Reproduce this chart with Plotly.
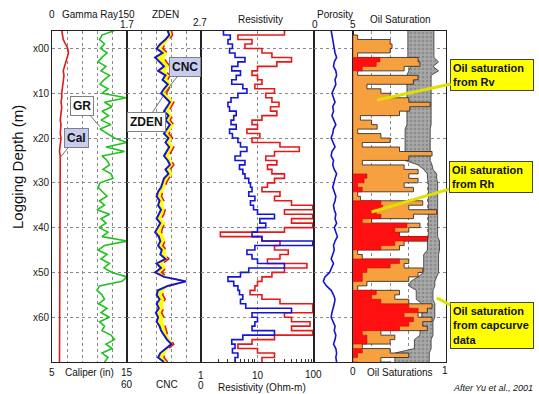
import plotly.graph_objects as go

# ---------------- data ----------------
depth = list(range(-4, 71))

gamma_ray = [125,100,95,105,97,110,100,92,108,98,
             115,104,96,112,100,148,105,120,100,113,
             98,118,96,112,125,150,108,145,100,110,
             115,102,118,122,96,92,100,110,95,105,
             90,115,98,108,94,112,100,150,105,92,
             110,98,115,104,120,150,140,95,90,100,
             105,93,110,98,115,95,105,100,118,125,
             108,120,100,112,105]

caliper = [6.3,6.4,6.5,6.8,7.1,7.2,7.0,6.9,6.7,6.5,
           6.6,6.5,6.4,6.4,6.3,6.3,6.2,6.3,6.2,6.2,
           6.1,6.2,6.1,6.1,6.2,6.1,6.1,6.0,6.1,6.1,
           6.1,6.1,6.0,6.1,6.1,6.1,6.1,6.0,6.1,6.1,
           6.1,6.1,6.1,6.0,6.1,6.1,6.1,6.1,6.0,6.1,
           6.1,6.1,6.1,6.1,6.0,6.1,6.1,6.1,6.1,6.0,
           6.0,6.0,6.1,6.0,6.0,6.0,6.1,6.0,6.0,6.0,
           6.0,6.0,6.0,6.0,6.0]

zden = [2.25,2.27,2.22,2.15,2.10,2.18,2.08,2.14,2.20,2.12,
        2.22,2.18,2.25,2.20,2.16,2.22,2.28,2.24,2.20,2.26,
        2.22,2.28,2.24,2.20,2.26,2.22,2.27,2.24,2.20,2.25,
        2.28,2.22,2.26,2.20,2.18,2.16,2.12,2.10,2.14,2.12,
        2.16,2.13,2.10,2.15,2.12,2.08,2.13,2.15,2.12,2.17,
        2.15,2.22,2.10,2.16,2.08,2.20,2.50,2.25,2.12,2.10,
        2.14,2.10,2.13,2.09,2.12,2.10,2.14,2.16,2.20,2.24,
        2.30,2.22,2.15,2.12,2.20]

cnc = [24,23,26,29,31,27,30,28,25,29,
       25,27,24,26,28,25,22,24,26,23,
       25,22,24,26,23,25,22,24,26,24,
       22,25,23,26,28,29,31,32,30,31,
       29,30,32,29,31,32,30,29,31,28,
       29,26,31,28,32,27,14,25,30,31,
       29,31,30,32,30,31,29,28,27,25,
       22,26,29,30,27]

rh = [2.5,3.3,3.0,3.6,3.2,4.0,6.0,4.5,3.5,5.0,
      4.2,3.5,5.5,6.5,4.5,3.4,3.0,3.2,4.2,3.8,
      3.4,4.2,3.2,3.6,4.5,5.0,6.5,5.0,4.0,6.0,
      4.8,5.5,6.0,7.0,7.5,8.0,7.0,9.0,7.5,8.5,
      10,20,11,14,10,8,12,95,9,6.5,
      8,10,30,7,5,3.0,3.8,4.5,4.8,5.5,
      5,6.2,40,8,10,9,8,20,5.5,3.5,
      4.0,3.6,4.5,4.0,4.0]

rv = [30,4.5,8,6,12,18,40,22,10,8,
      10,12,9,20,14,18,24,17,22,12,
      8,10,6.5,11,8,25,55,20,14,22,
      15,18,30,20,15,12,25,20,40,95,
      30,95,40,95,30,2.2,12,25,20,35,
      25,15,75,30,18,12,10,9,7.4,12,
      25,95,95,30,40,85,40,95,20,8,
      4.5,10,20,12,12]

porosity = [2.2,2.3,2.4,2.5,2.6,2.7,2.9,2.6,2.5,2.8,
            2.9,2.7,2.8,2.6,2.3,2.5,2.7,2.4,2.5,2.3,
            2.6,2.8,2.5,2.4,2.2,2.5,2.7,2.3,2.2,2.5,
            2.4,2.6,2.9,2.7,2.5,2.4,2.6,2.8,2.7,2.5,
            2.6,2.8,2.7,2.9,2.6,2.8,3.0,2.7,2.5,2.6,
            2.4,2.2,2.5,2.3,2.0,1.4,1.2,1.6,2.2,2.5,
            2.7,2.6,2.4,2.3,2.2,2.5,2.7,2.6,2.8,2.7,
            2.5,2.8,2.9,2.8,2.9]

so_rv = [0.0,0.05,0.40,0.42,0.40,0.05,0.70,0.72,0.55,0.05,
         0.70,0.65,0.15,0.30,0.40,0.60,0.83,0.61,0.50,0.08,
         0.20,0.26,0.05,0.30,0.40,0.10,0.50,0.85,0.60,0.10,
         0.55,0.70,0.60,0.70,0.55,0.65,0.05,0.08,0.75,0.60,
         0.90,0.65,0.20,0.72,0.60,0.50,0.80,0.55,0.50,0.05,
         0.10,0.60,0.55,0.75,0.70,0.60,0.15,0.05,0.50,0.45,
         0.60,0.85,0.80,0.70,0.85,0.75,0.80,0.30,0.45,0.40,
         0.10,0.40,0.60,0.30,0.40]

so_rh = [0,0,0,0,0,0,0.29,0.25,0.10,0,
         0,0,0,0,0,0,0,0,0,0,
         0,0,0,0,0,0,0,0,0,0,
         0,0,0.15,0.12,0.05,0.10,0,0,0.30,0.32,
         0.25,0.30,0.10,0.58,0.45,0.50,0.80,0.45,0.30,0,
         0,0.50,0.40,0.15,0.10,0.10,0,0,0.25,0.20,
         0.30,0.60,0.70,0.55,0.65,0.60,0.50,0.10,0.15,0.15,
         0,0.10,0.05,0,0.05]

so_cap_lo = [0.59,0.59,0.59,0.59,0.59,0.59,0.59,0.60,0.62,0.60,
             0.58,0.58,0.58,0.58,0.58,0.58,0.58,0.58,0.58,0.58,
             0.58,0.58,0.56,0.56,0.56,0.56,0.56,0.56,0.56,0.56,
             0.70,0.76,0.80,0.80,0.81,0.81,0.81,0.81,0.81,0.81,
             0.81,0.81,0.81,0.81,0.81,0.81,0.81,0.80,0.80,0.80,
             0.76,0.76,0.76,0.76,0.76,0.70,0.62,0.60,0.68,0.68,
             0.68,0.74,0.74,0.74,0.74,0.72,0.72,0.72,0.72,0.66,
             0.66,0.66,0.45,0.45,0.45]

so_cap_hi = [0.87,0.87,0.87,0.87,0.87,0.87,0.87,0.92,0.86,0.92,
             0.84,0.84,0.84,0.84,0.84,0.84,0.84,0.84,0.84,0.84,
             0.84,0.84,0.83,0.83,0.83,0.83,0.83,0.83,0.83,0.83,
             0.85,0.86,0.90,0.90,0.91,0.91,0.91,0.91,0.91,0.91,
             0.91,0.91,0.91,0.91,0.91,0.91,0.91,0.93,0.93,0.93,
             0.92,0.92,0.92,0.92,0.92,0.90,0.88,0.88,0.86,0.86,
             0.86,0.88,0.88,0.88,0.88,0.86,0.86,0.86,0.86,0.84,
             0.84,0.84,0.82,0.82,0.82]

depth_ticks = [0, 10, 20, 30, 40, 50, 60]
depth_labels = ["x00", "x10", "x20", "x30", "x40", "x50", "x60"]

# scales of the tracks
GR_RANGE = [0, 150]
CAL_RANGE = [5, 15]
ZDEN_RANGE = [1.7, 2.7]
CNC_RANGE = [60, 0]
POR_RANGE = [0, 5]
SO_RANGE = [0, 1]
DEPTH_RANGE = [70.0, -3.9]

# CNC shown on the ZDEN track scale (needed for the crossover fill)
cnc_on_zden = [ZDEN_RANGE[0] + (CNC_RANGE[0] - c) / (CNC_RANGE[0] - CNC_RANGE[1]) *
               (ZDEN_RANGE[1] - ZDEN_RANGE[0]) for c in cnc]

# ---------------- figure ----------------
W, H = 539, 394
ML, MR, MT, MB = 52, 93, 31, 32
PW, PH = W - ML - MR, H - MT - MB
FONT = "Liberation Sans, Arial, sans-serif"

def px(p):
    return (p - ML) / PW

def py(p):
    return (H - MB - p) / PH

edges = [52, 127, 201, 314, 353, 446]
domains = [[px(edges[i]), px(edges[i + 1])] for i in range(5)]
domains[-1][1] = 1.0

fig = go.Figure()

# Track 1
fig.add_trace(go.Scatter(x=gamma_ray, y=depth, xaxis="x", yaxis="y", mode="lines",
                         line=dict(color="#1fc21f", width=1.6)))
fig.add_trace(go.Scatter(x=caliper, y=depth, xaxis="x6", yaxis="y", mode="lines",
                         line=dict(color="#e01818", width=1.6)))
# Track 2
fig.add_trace(go.Scatter(x=zden, y=depth, xaxis="x2", yaxis="y2", mode="lines",
                         line=dict(width=0, color="#1515d0")))
fig.add_trace(go.Scatter(x=cnc_on_zden, y=depth, xaxis="x2", yaxis="y2", mode="lines",
                         fill="tonextx", fillcolor="#ffff00",
                         line=dict(color="#e01818", width=1.5, dash="dash")))
fig.add_trace(go.Scatter(x=zden, y=depth, xaxis="x2", yaxis="y2", mode="lines",
                         line=dict(color="#1515d0", width=2)))
# Track 3
fig.add_trace(go.Scatter(x=rv, y=depth, xaxis="x3", yaxis="y3", mode="lines",
                         line=dict(color="#e81818", width=1.6, shape="vh")))
fig.add_trace(go.Scatter(x=rh, y=depth, xaxis="x3", yaxis="y3", mode="lines",
                         line=dict(color="#1515d8", width=1.6, shape="vh")))
# Track 4
fig.add_trace(go.Scatter(x=porosity, y=depth, xaxis="x4", yaxis="y4", mode="lines",
                         line=dict(color="#1515d0", width=1.6)))
# Track 5
fig.add_trace(go.Scatter(x=so_cap_lo, y=depth, xaxis="x5", yaxis="y5", mode="lines",
                         line=dict(color="#333", width=0.8)))
fig.add_trace(go.Scatter(x=so_cap_hi, y=depth, xaxis="x5", yaxis="y5", mode="lines",
                         fill="tonextx", fillcolor="#a0a0a0",
                         fillpattern=dict(shape=".", bgcolor="#a8a8a8", fgcolor="#6e6e6e",
                                          size=4, solidity=0.35),
                         line=dict(color="#333", width=0.8)))
fig.add_trace(go.Scatter(x=so_rv, y=depth, xaxis="x5", yaxis="y5", mode="lines",
                         fill="tozerox", fillcolor="#f6a040",
                         line=dict(color="#222", width=0.8, shape="vh")))
fig.add_trace(go.Scatter(x=so_rh, y=depth, xaxis="x5", yaxis="y5", mode="lines",
                         fill="tozerox", fillcolor="#ff1010",
                         line=dict(color="#c00000", width=0.5, shape="vh")))

grid = dict(showgrid=True, gridcolor="#8a8a8a", griddash="dot", gridwidth=1)
line = dict(showline=True, linecolor="#222", linewidth=1, mirror=True,
            zeroline=False, showticklabels=False, ticks="")

xcfg = [
    dict(range=GR_RANGE, tickvals=[30, 60, 90, 120]),
    dict(range=ZDEN_RANGE, tickvals=[1.9, 2.1, 2.3, 2.5]),
    dict(type="log", range=[0, 2], tickvals=[10],
         minor=dict(tickmode="array", tickvals=[2, 3, 4, 5, 6, 7, 8, 9, 20, 30, 40, 50, 60, 70, 80, 90],
                    ticks="inside", ticklen=3, tickcolor="#333", showgrid=False)),
    dict(range=POR_RANGE, tickvals=[]),
    dict(range=SO_RANGE, tickvals=[0.2, 0.4, 0.6, 0.8]),
]

layout = dict(width=W, height=H, margin=dict(l=ML, r=MR, t=MT, b=MB),
              paper_bgcolor="white", plot_bgcolor="white", showlegend=False,
              font=dict(family=FONT, size=10, color="#111"))

for i in range(5):
    k = "" if i == 0 else str(i + 1)
    xa = dict(domain=domains[i], anchor="y" + k, **grid, **line)
    xa.update(xcfg[i])
    layout["xaxis" + k] = xa
    ya = dict(domain=[0, 1], anchor="x" + k, range=DEPTH_RANGE, tickvals=depth_ticks,
              **grid, **line)
    if i == 0:
        ya.update(showticklabels=True, ticktext=depth_labels,
                  tickfont=dict(size=10, color="#222", family=FONT))
    else:
        ya.update(matches="y")
    layout["yaxis" + k] = ya

layout["xaxis6"] = dict(overlaying="x", anchor="y", range=CAL_RANGE, visible=False)

fig.update_layout(**layout)

# ---------------- texts ----------------
ann = []

def label(text, x, y, xanchor="center", size=10, yanchor="middle", **kw):
    ann.append(dict(text=text, x=px(x), y=py(y), xref="paper", yref="paper",
                    xanchor=xanchor, yanchor=yanchor, showarrow=False,
                    font=dict(family=FONT, size=size, color="#111"), **kw))

label("0", 52, 15)
label("Gamma Ray", 90, 15)
label("150", 126, 15)
label("1.7", 127, 24)
label("ZDEN", 165, 15)
label("2.7", 200, 23)
label("Resistivity", 260, 19)
label("Porosity", 335, 15)
label("0", 315, 24)
label("5", 353, 25)
label("Oil Saturation", 400, 19)

label("5", 52, 372)
label("Caliper (in)", 89, 372)
label("15", 127, 372)
label("60", 127, 384)
label("CNC", 167, 384)
label("1", 201, 375)
label("0", 201, 385)
label("10", 258, 375)
label("100", 313, 374)
label("Resistivity (Ohm-m)", 262, 387)
label("0", 353, 371)
label("Oil Saturations", 400, 372)
label("1", 445, 370)
label("<i>After Yu et al., 2001</i>", 451, 388, xanchor="left", size=9)
label("Logging Depth (m)", 17, 103, size=15, yanchor="top", textangle=-90)

def callout(text, xref, yref, x, y, ax, ay, bg, size=12, bold=True, border="#808080",
            acolor="#707070", awidth=1, **kw):
    t = "<b>%s</b>" % text if bold else text
    ann.append(dict(text=t, x=x, y=y, xref=xref, yref=yref, ax=ax, ay=ay,
                    showarrow=True, arrowhead=0, arrowwidth=awidth, arrowcolor=acolor,
                    bgcolor=bg, bordercolor=border, borderwidth=1, borderpad=2,
                    font=dict(family=FONT, size=size, color="#111"), **kw))

callout("GR", "x", "y", 96, 17.5, -18, -21, "white")
callout("Cal", "x6", "y", 6.07, 24.4, 16, -20, "#c8ccf0")
callout("CNC", "x2", "y2", 2.21, 9.9, 20, -26, "#c8ccf0")
callout("ZDEN", "x2", "y2", 2.19, 10.6, -17, 26, "white")
callout("Rh", "x3", "y3", 4.34, 8.6, -16, -21, "white")
callout("Rv", "x3", "y3", 18.1, 13.3, 22, -26, "#c8ccf0")

ybox = dict(size=11, border="#444", acolor="#e0e000", awidth=3, align="left", width=78)
callout("Oil saturation<br>from Rv", "x5", "y5", 0.26, 11.5, 115, -25, "#ffff00", **ybox)
callout("Oil saturation<br>from Rh", "x5", "y5", 0.20, 36.5, 119, -35, "#ffff00", **ybox)
callout("Oil saturation<br>from capcurve<br>data", "x5", "y5", 0.90, 55.7, 55, 28, "#ffff00", **ybox)

fig.update_layout(annotations=ann)
fig.write_html("out.html")
